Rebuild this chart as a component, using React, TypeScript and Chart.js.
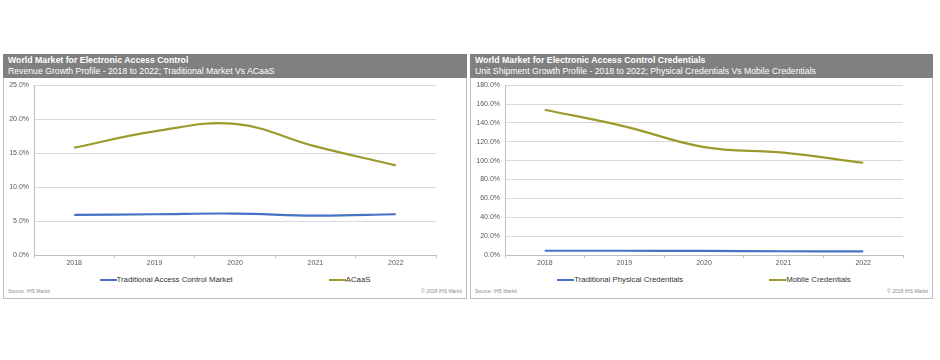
import React, { useEffect, useRef } from "react";
import { Chart, registerables } from "chart.js";

Chart.register(...registerables);

// ---------- data ----------
const years = ["2018", "2019", "2020", "2021", "2022"];

const leftTitle = "World Market for Electronic Access Control";
const leftSubtitle = "Revenue Growth Profile - 2018 to 2022; Traditional Market Vs ACaaS";
const leftSeriesNames = ["Traditional Access Control Market", "ACaaS"];
const traditionalMarket = [5.9, 6.0, 6.1, 5.8, 6.0];
const acaas = [15.8, 18.2, 19.3, 16.0, 13.2];
const leftYMax = 25;
const leftYStep = 5;

const rightTitle = "World Market for Electronic Access Control Credentials";
const rightSubtitle =
  "Unit Shipment Growth Profile - 2018 to 2022; Physical Credentials Vs Mobile Credentials";
const rightSeriesNames = ["Traditional Physical Credentials", "Mobile Credentials"];
const physicalCredentials = [4.5, 4.5, 4.3, 4.0, 3.8];
const mobileCredentials = [154.0, 136.4, 114.4, 108.5, 97.8];
const rightYMax = 180;
const rightYStep = 20;

const sourceText = "Source: IHS Markit";
const copyrightText = "© 2018 IHS Markit";

const seriesColors = ["#4472C4", "#9C9A2C"];
const FONT = "'Liberation Sans', Arial, sans-serif";

type PanelProps = {
  left: number;
  width: number;
  title: string;
  subtitle: string;
  names: string[];
  series: number[][];
  yMax: number;
  yStep: number;
  yAxisWidth: number;
  padRight: number;
  legendGap: number;
};

function Panel(p: PanelProps) {
  const ref = useRef<HTMLCanvasElement | null>(null);
  const contentW = p.width - 2;
  const canvasTop = 21;
  const canvasH = 194;

  useEffect(() => {
    if (!ref.current) return;
    const chart = new Chart(ref.current, {
      type: "line",
      data: {
        labels: years,
        datasets: p.series.map((d, i) => ({
          label: p.names[i],
          data: d,
          borderColor: seriesColors[i],
          backgroundColor: seriesColors[i],
          borderWidth: 2.2,
          pointRadius: 0,
          pointHoverRadius: 0,
          tension: 0.4,
          fill: false,
        })),
      },
      options: {
        animation: false,
        responsive: false,
        maintainAspectRatio: false,
        layout: { padding: { top: 0, right: p.padRight, left: 0, bottom: 0 } },
        plugins: { legend: { display: false }, tooltip: { enabled: false } },
        scales: {
          x: {
            offset: true,
            grid: {
              offset: true,
              drawOnChartArea: false,
              drawTicks: true,
              tickLength: 3,
              color: "#bfbfbf",
            },
            border: { color: "#bfbfbf" },
            ticks: {
              font: { family: FONT, size: 7 },
              color: "#595959",
              padding: 1,
              maxRotation: 0,
            },
            afterFit: (s: any) => {
              s.height = 15;
            },
          },
          y: {
            min: 0,
            max: p.yMax,
            ticks: {
              stepSize: p.yStep,
              callback: (v: any) => Number(v).toFixed(1) + "%",
              font: { family: FONT, size: 7 },
              color: "#595959",
              padding: 5,
            },
            grid: { color: "#d9d9d9", drawTicks: false },
            border: { color: "#bfbfbf" },
            afterFit: (s: any) => {
              s.width = p.yAxisWidth;
            },
          },
        },
      },
    });
    return () => chart.destroy();
  }, []);

  return (
    <div
      style={{
        position: "absolute",
        left: p.left,
        top: 54,
        width: p.width,
        height: 245,
        border: "1px solid #bfbfbf",
        boxSizing: "border-box",
        fontFamily: FONT,
      }}
    >
      <div
        style={{
          position: "absolute",
          left: -1,
          top: -1,
          width: p.width,
          height: 24,
          background: "#808080",
          color: "#ffffff",
          boxSizing: "border-box",
          paddingLeft: 5,
          paddingTop: 1,
        }}
      >
        <div style={{ fontWeight: "bold", fontSize: 8.75, lineHeight: "11px", whiteSpace: "nowrap" }}>
          {p.title}
        </div>
        <div style={{ fontSize: 8.7, lineHeight: "11px", whiteSpace: "nowrap" }}>{p.subtitle}</div>
      </div>
      <canvas
        ref={ref}
        width={contentW}
        height={canvasH}
        style={{ position: "absolute", left: 0, top: canvasTop, width: contentW, height: canvasH }}
      />
      <div
        style={{
          position: "absolute",
          left: p.yAxisWidth,
          width: contentW - p.yAxisWidth - p.padRight,
          top: 220,
          height: 10,
          display: "flex",
          justifyContent: "center",
          alignItems: "center",
          gap: p.legendGap,
          fontSize: 7.8,
          color: "#333333",
          whiteSpace: "nowrap",
        }}
      >
        {p.names.map((n, i) => (
          <div key={n} style={{ display: "flex", alignItems: "center" }}>
            <span
              style={{
                display: "inline-block",
                width: 17,
                height: 2.2,
                background: seriesColors[i],
              }}
            />
            <span style={{ lineHeight: "10px" }}>{n}</span>
          </div>
        ))}
      </div>
      <div
        style={{
          position: "absolute",
          left: 4,
          top: 233,
          fontSize: 5,
          lineHeight: "6px",
          color: "#8c8c8c",
          whiteSpace: "nowrap",
        }}
      >
        {sourceText}
      </div>
      <div
        style={{
          position: "absolute",
          right: 4,
          top: 233,
          fontSize: 5,
          lineHeight: "6px",
          color: "#8c8c8c",
          whiteSpace: "nowrap",
        }}
      >
        {copyrightText}
      </div>
    </div>
  );
}

export default function App() {
  return (
    <div
      style={{
        position: "absolute",
        left: 0,
        top: 0,
        width: 940,
        height: 360,
        background: "#ffffff",
      }}
    >
      <Panel
        left={3}
        width={464}
        title={leftTitle}
        subtitle={leftSubtitle}
        names={leftSeriesNames}
        series={[traditionalMarket, acaas]}
        yMax={leftYMax}
        yStep={leftYStep}
        yAxisWidth={30}
        padRight={30}
        legendGap={96}
      />
      <Panel
        left={470}
        width={463}
        title={rightTitle}
        subtitle={rightSubtitle}
        names={rightSeriesNames}
        series={[physicalCredentials, mobileCredentials]}
        yMax={rightYMax}
        yStep={rightYStep}
        yAxisWidth={34}
        padRight={29}
        legendGap={86}
      />
    </div>
  );
}
